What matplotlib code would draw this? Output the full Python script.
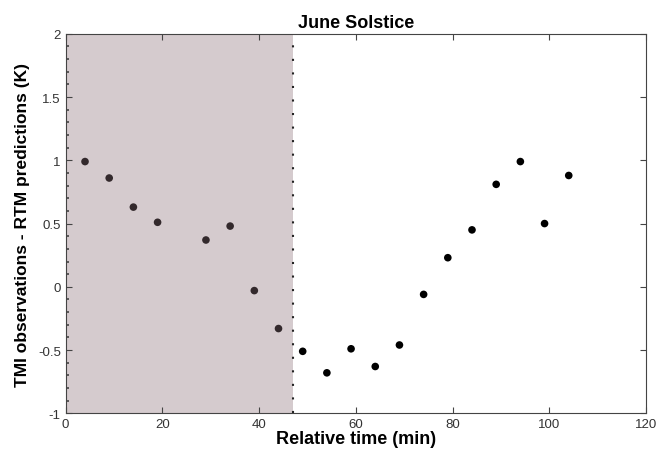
import numpy as np
import matplotlib
matplotlib.use("Agg")
import matplotlib.pyplot as plt
from matplotlib.ticker import MultipleLocator, FormatStrFormatter

plt.rcParams['font.family'] = ['Liberation Sans', 'DejaVu Sans']
plt.rcParams['axes.unicode_minus'] = False

# relative time (min) and TMI obs - RTM predictions (K)
t_shade = [4, 9, 14, 19, 29, 34, 39, 44]
d_shade = [0.99, 0.86, 0.63, 0.51, 0.37, 0.48, -0.03, -0.33]
t_clear = [49, 54, 59, 64, 69, 74, 79, 84, 89, 94, 99, 104]
d_clear = [-0.51, -0.68, -0.49, -0.63, -0.46, -0.06, 0.23, 0.45, 0.81, 0.99, 0.50, 0.88]
shade_end = 47

fig = plt.figure(figsize=(6.6, 4.52), dpi=100)
ax = fig.add_axes([0.0995, 0.0834, 0.8795, 0.8396])

ax.axvspan(0, shade_end, color='#d5cbce', lw=0, zorder=0)
ax.axvline(shade_end, color='#222222', lw=1.5, linestyle=(0, (1, 5.5)), zorder=1)

ax.scatter(t_shade, d_shade, s=30, color='#33292c', zorder=3, edgecolors='none')
ax.scatter(t_clear, d_clear, s=30, color='black', zorder=3, edgecolors='none')

ax.set_xlim(0, 120)
ax.set_ylim(-1, 2)
ax.xaxis.set_major_locator(MultipleLocator(20))
ax.yaxis.set_major_locator(MultipleLocator(0.5))
ax.yaxis.set_minor_locator(MultipleLocator(0.1))
ax.xaxis.set_major_formatter(FormatStrFormatter('%g'))
ax.yaxis.set_major_formatter(FormatStrFormatter('%g'))
ax.tick_params(which='major', direction='in', length=4, width=0.8, top=True, right=True,
               labelsize=9.5, labelcolor='#333333', color='#444444')
ax.tick_params(axis='y', which='minor', direction='in', length=2, width=1.2, left=True, right=False,
               color='#444444')
for s in ax.spines.values():
    s.set_color('#444444')
    s.set_linewidth(0.8)

ax.set_title('June Solstice', fontsize=13, fontweight='bold', pad=5)
ax.set_xlabel('Relative time (min)', fontsize=13, fontweight='bold', labelpad=0)
ax.set_ylabel('TMI observations - RTM predictions (K)', fontsize=12.5, fontweight='bold', labelpad=6)

fig.savefig('out.png', dpi=100)
